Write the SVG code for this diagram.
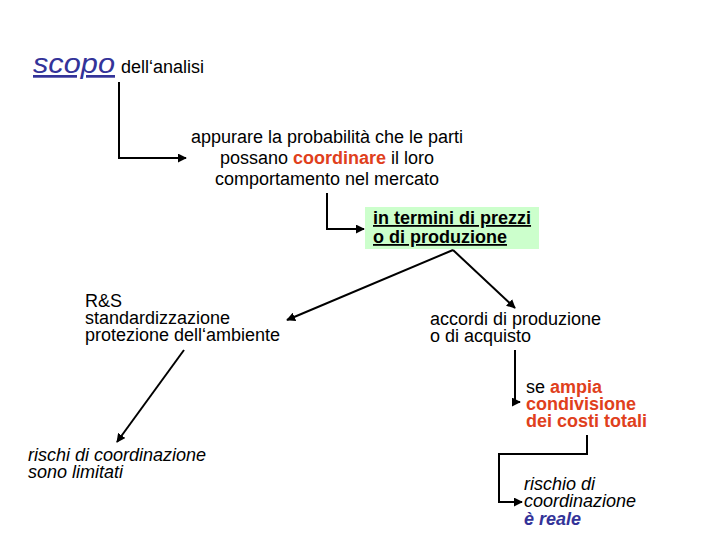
<svg xmlns="http://www.w3.org/2000/svg" width="720" height="540" viewBox="0 0 720 540">
<style>
text{font-family:"Liberation Sans",Arial,sans-serif;font-size:18px;fill:#000}
.red{fill:#e0401c;font-weight:bold}
.blue{fill:#333399}
.it{font-style:italic}
.c{stroke:#000;stroke-width:2;fill:none}
</style>
<defs>
<marker id="ah" viewBox="0 0 10 10" refX="9" refY="5" markerWidth="4.5" markerHeight="4.5" orient="auto" markerUnits="strokeWidth">
<path d="M0,0 L10,5 L0,10 z" fill="#000"/>
</marker>
</defs>
<rect width="720" height="540" fill="#fff"/>
<g id="connectors">
<polyline class="c" points="119,82 119,158 186,158" marker-end="url(#ah)"/>
<polyline class="c" points="327,193 327,229 364,229" marker-end="url(#ah)"/>
<polyline class="c" points="453,250 287,320" marker-end="url(#ah)"/>
<polyline class="c" points="453,250 515,308" marker-end="url(#ah)"/>
<polyline class="c" points="184,350 117,442" marker-end="url(#ah)"/>
<polyline class="c" points="515,350 515,402 520,402" marker-end="url(#ah)"/>
<polyline class="c" points="587,435 587,454 499,454 499,502 522,502" marker-end="url(#ah)"/>
</g>
<g id="scopo">
<text x="33" y="73" class="blue it" style="font-size:27px;text-decoration:underline" textLength="82" lengthAdjust="spacingAndGlyphs">scopo</text>
<text x="121" y="73">dell‘analisi</text>
</g>
<g id="appurare">
<text x="327" y="143" text-anchor="middle">appurare la probabilità che le parti</text>
<text x="327" y="164" text-anchor="middle">possano <tspan class="red">coordinare</tspan> il loro</text>
<text x="327" y="185" text-anchor="middle">comportamento nel mercato</text>
</g>
<g id="termini">
<rect x="365" y="207" width="174" height="42" fill="#ccffcc"/>
<text x="373" y="224" font-weight="bold" text-decoration="underline">in termini di prezzi</text>
<text x="373" y="243" font-weight="bold" text-decoration="underline">o di produzione</text>
</g>
<g id="rs">
<text x="85" y="307">R&amp;S</text>
<text x="85" y="324">standardizzazione</text>
<text x="85" y="341">protezione dell‘ambiente</text>
</g>
<g id="accordi">
<text x="430" y="325">accordi di produzione</text>
<text x="430" y="342">o di acquisto</text>
</g>
<g id="rischi">
<text x="28" y="461" class="it">rischi di coordinazione</text>
<text x="28" y="478" class="it">sono limitati</text>
</g>
<g id="ampia">
<text x="526" y="393">se <tspan class="red">ampia</tspan></text>
<text x="526" y="410" class="red">condivisione</text>
<text x="526" y="427" class="red">dei costi totali</text>
</g>
<g id="rischio">
<text x="524" y="490" class="it">rischio di</text>
<text x="524" y="507" class="it">coordinazione</text>
<text x="524" y="525" class="it blue" font-weight="bold">è reale</text>
</g>
</svg>
